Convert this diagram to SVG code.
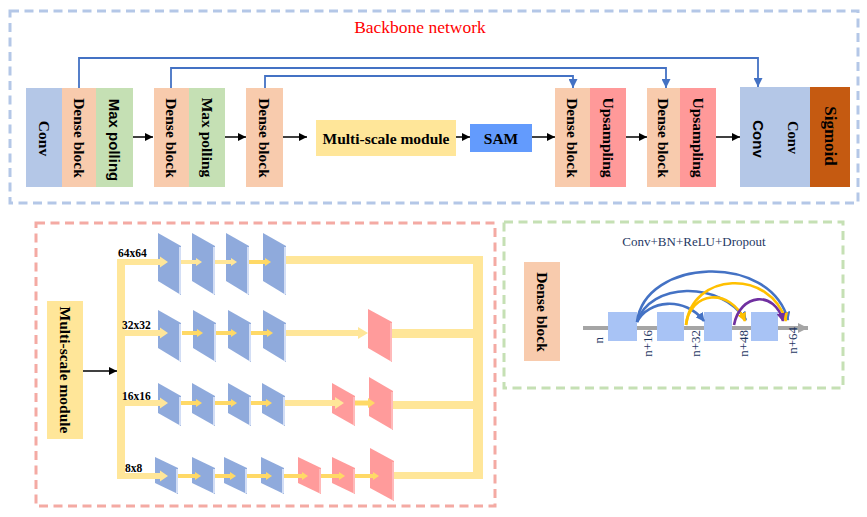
<svg xmlns="http://www.w3.org/2000/svg" width="867" height="517" viewBox="0 0 867 517">
<defs>
<style>
.serif{font-family:"Liberation Serif","Times New Roman",serif}
.sans{font-family:"Liberation Sans",Arial,sans-serif}
.b{font-weight:bold}
.lbl{font-size:15.5px;fill:#000}
.frame{fill:none;stroke-width:3;stroke-dasharray:9 5.5}
.blue{fill:#8faadc}
.pink{fill:#ff9b9b}
.edgeB{stroke:#d3def5;stroke-width:2}
.edgeP{stroke:#ffc4c4;stroke-width:1.5}
.yl{fill:#ffe699}
.yd{fill:#ffd966}
.conn{fill:none;stroke:#000;stroke-width:1.5}
.skip{fill:none;stroke:#4472c4;stroke-width:1.8}
.arc{fill:none;stroke-width:2.6}
.nl{font-size:13px;fill:#1f3864}
</style>
<marker id="ah" viewBox="0 0 10 10" refX="10" refY="5" markerWidth="8" markerHeight="8" markerUnits="userSpaceOnUse" orient="auto"><path d="M0,0 L10,5 L0,10 z" fill="#000"/></marker>
<marker id="ahb" viewBox="0 0 10 10" refX="10" refY="5" markerWidth="9" markerHeight="9" markerUnits="userSpaceOnUse" orient="auto"><path d="M0,0 L10,5 L0,10 z" fill="#4472c4"/></marker>
<marker id="ahy" viewBox="0 0 10 10" refX="9" refY="5" markerWidth="9" markerHeight="9" markerUnits="userSpaceOnUse" orient="auto"><path d="M0,0 L10,5 L0,10 z" fill="#ffc000"/></marker>
<marker id="ahp" viewBox="0 0 10 10" refX="9" refY="5" markerWidth="9" markerHeight="9" markerUnits="userSpaceOnUse" orient="auto"><path d="M0,0 L10,5 L0,10 z" fill="#7030a0"/></marker>
<marker id="ahbl" viewBox="0 0 10 10" refX="9" refY="5" markerWidth="9" markerHeight="9" markerUnits="userSpaceOnUse" orient="auto"><path d="M0,0 L10,5 L0,10 z" fill="#4472c4"/></marker>
<marker id="ahg" viewBox="0 0 10 10" refX="10" refY="5" markerWidth="11" markerHeight="10" markerUnits="userSpaceOnUse" orient="auto"><path d="M0,0 L10,5 L0,10 z" fill="#a5a5a5"/></marker>
</defs>
<rect width="867" height="517" fill="#fff"/>

<!-- Frames -->
<g id="frames">
<rect class="frame" x="10" y="11" width="848" height="192" stroke="#b4c7e7"/>
<rect class="frame" x="36" y="223" width="459" height="283" stroke="#f4aaa3"/>
<rect class="frame" x="504" y="222" width="339" height="166" stroke="#c5e0b4"/>
</g>
<text class="serif" x="420" y="33" font-size="17.5" fill="#ff0000" text-anchor="middle">Backbone network</text>

<!-- Backbone nodes -->
<g id="conv1">
<rect x="26" y="88" width="36" height="99" fill="#b4c7e7"/>
<text class="serif b lbl" transform="translate(44,138.5) rotate(90)" text-anchor="middle" dominant-baseline="central">Conv</text>
</g>
<g id="dense1">
<rect x="62" y="88" width="34" height="99" fill="#f8cbad"/>
<text class="serif b lbl" transform="translate(79,138) rotate(90)" text-anchor="middle" dominant-baseline="central">Dense block</text>
</g>
<g id="pool1">
<rect x="96" y="88" width="37" height="99" fill="#c5e0b4"/>
<text class="sans b" font-size="15" transform="translate(114.5,140) rotate(90)" text-anchor="middle" dominant-baseline="central">Max polling</text>
</g>
<g id="dense2">
<rect x="154" y="88" width="35" height="99" fill="#f8cbad"/>
<text class="serif b lbl" transform="translate(171.5,138) rotate(90)" text-anchor="middle" dominant-baseline="central">Dense block</text>
</g>
<g id="pool2">
<rect x="189" y="88" width="36" height="99" fill="#c5e0b4"/>
<text class="serif b lbl" transform="translate(207,137.5) rotate(90)" text-anchor="middle" dominant-baseline="central">Max polling</text>
</g>
<g id="dense3">
<rect x="246" y="88" width="37" height="99" fill="#f8cbad"/>
<text class="serif b lbl" transform="translate(264.5,138) rotate(90)" text-anchor="middle" dominant-baseline="central">Dense block</text>
</g>
<g id="msm">
<rect x="316" y="120" width="140" height="36" fill="#ffe699"/>
<text class="serif b lbl" x="386" y="138" text-anchor="middle" dominant-baseline="central">Multi-scale module</text>
</g>
<g id="sam">
<rect x="470" y="124" width="62" height="28" fill="#639bfd"/>
<text class="serif b lbl" x="501" y="138" text-anchor="middle" dominant-baseline="central">SAM</text>
</g>
<g id="dense4">
<rect x="555" y="88" width="35" height="99" fill="#f8cbad"/>
<text class="serif b lbl" transform="translate(572.5,138) rotate(90)" text-anchor="middle" dominant-baseline="central">Dense block</text>
</g>
<g id="up1">
<rect x="590" y="88" width="36" height="99" fill="#ff9999"/>
<text class="serif b lbl" transform="translate(608,137.5) rotate(90)" text-anchor="middle" dominant-baseline="central">Upsampling</text>
</g>
<g id="dense5">
<rect x="647" y="88" width="33" height="99" fill="#f8cbad"/>
<text class="serif b lbl" transform="translate(663.5,138) rotate(90)" text-anchor="middle" dominant-baseline="central">Dense block</text>
</g>
<g id="up2">
<rect x="680" y="88" width="36" height="99" fill="#ff9999"/>
<text class="serif b lbl" transform="translate(698,137.5) rotate(90)" text-anchor="middle" dominant-baseline="central">Upsampling</text>
</g>
<g id="convOut">
<rect x="740" y="87" width="70" height="100" fill="#b4c7e7"/>
<text class="sans b" font-size="15" transform="translate(758,139) rotate(90)" text-anchor="middle" dominant-baseline="central">Conv</text>
<text class="serif b" font-size="14.5" transform="translate(793,137.5) rotate(90)" text-anchor="middle" dominant-baseline="central">Conv</text>
</g>
<g id="sigmoid">
<rect x="810" y="87" width="40" height="100" fill="#c55a11"/>
<text class="serif b" font-size="17" transform="translate(830,136) rotate(90)" text-anchor="middle" dominant-baseline="central">Sigmoid</text>
</g>

<!-- Backbone connectors -->
<g id="backbone-connectors">
<line class="conn" x1="133" y1="137" x2="153" y2="137" marker-end="url(#ah)"/>
<line class="conn" x1="225" y1="137" x2="246" y2="137" marker-end="url(#ah)"/>
<line class="conn" x1="283" y1="137" x2="307" y2="137" marker-end="url(#ah)"/>
<line class="conn" x1="456" y1="137" x2="470" y2="137" marker-end="url(#ah)"/>
<line class="conn" x1="532" y1="137" x2="555" y2="137" marker-end="url(#ah)"/>
<line class="conn" x1="626" y1="137" x2="647" y2="137" marker-end="url(#ah)"/>
<line class="conn" x1="716" y1="137" x2="740" y2="137" marker-end="url(#ah)"/>
<path class="skip" d="M79,88 V58 H758 V87" marker-end="url(#ahb)"/>
<path class="skip" d="M171,88 V68 H666 V88" marker-end="url(#ahb)"/>
<path class="skip" d="M265,88 V76 H573 V88" marker-end="url(#ahb)"/>
</g>

<!-- Multi-scale module detail -->
<g id="msm-big">
<rect x="47" y="301" width="36" height="138" fill="#ffe699"/>
<text class="serif b lbl" transform="translate(65,370) rotate(90)" text-anchor="middle" dominant-baseline="central">Multi-scale module</text>
</g>
<g id="ms-connectors">
<line class="conn" x1="83" y1="371" x2="117" y2="371" stroke-width="2" marker-end="url(#ah)"/>
<rect class="yl" x="117" y="260" width="8" height="219"/>
<rect class="yl" x="286" y="256" width="197" height="8"/>
<rect class="yl" x="392" y="329" width="86" height="9"/>
<rect class="yl" x="393" y="401" width="85" height="8"/>
<rect class="yl" x="394" y="472" width="89" height="7"/>
<rect class="yl" x="473" y="256" width="10" height="223"/>
</g>
<g class="serif b" font-size="11.5">
<text x="118" y="257">64x64</text>
<text x="122" y="329">32x32</text>
<text x="122" y="400">16x16</text>
<text x="125" y="472">8x8</text>
</g>

<!-- row 1 -->
<g id="r1c1"><polygon class="blue" points="158,233 181,246 181,295 158,281"/><line class="edgeB" x1="180" y1="247" x2="180" y2="294"/></g>
<g id="r1c2"><polygon class="blue" points="192,233 215,246 215,295 192,281"/><line class="edgeB" x1="214" y1="247" x2="214" y2="294"/></g>
<g id="r1c3"><polygon class="blue" points="226,233 249,246 249,295 226,281"/><line class="edgeB" x1="248" y1="247" x2="248" y2="294"/></g>
<g id="r1c4"><polygon class="blue" points="263,233 286,246 286,295 263,281"/><line class="edgeB" x1="285" y1="247" x2="285" y2="294"/></g>
<!-- row 2 -->
<g id="r2c1"><polygon class="blue" points="158,310 181,323 181,362 158,348"/><line class="edgeB" x1="180" y1="324" x2="180" y2="361"/></g>
<g id="r2c2"><polygon class="blue" points="193,310 216,323 216,362 193,348"/><line class="edgeB" x1="215" y1="324" x2="215" y2="361"/></g>
<g id="r2c3"><polygon class="blue" points="228,310 251,323 251,362 228,348"/><line class="edgeB" x1="250" y1="324" x2="250" y2="361"/></g>
<g id="r2c4"><polygon class="blue" points="263,310 286,323 286,362 263,348"/><line class="edgeB" x1="285" y1="324" x2="285" y2="361"/></g>
<g id="r2p1"><polygon class="pink" points="368,309 392,322 392,362 368,348"/><line class="edgeP" x1="391" y1="323" x2="391" y2="361"/></g>
<!-- row 3 -->
<g id="r3c1"><polygon class="blue" points="158,383 181,396 181,426 158,413"/><line class="edgeB" x1="180" y1="397" x2="180" y2="425"/></g>
<g id="r3c2"><polygon class="blue" points="192,383 215,396 215,426 192,413"/><line class="edgeB" x1="214" y1="397" x2="214" y2="425"/></g>
<g id="r3c3"><polygon class="blue" points="228,383 251,396 251,426 228,413"/><line class="edgeB" x1="250" y1="397" x2="250" y2="425"/></g>
<g id="r3c4"><polygon class="blue" points="262,383 285,396 285,426 262,413"/><line class="edgeB" x1="284" y1="397" x2="284" y2="425"/></g>
<g id="r3p1"><polygon class="pink" points="332,383 355,396 355,426 332,413"/><line class="edgeP" x1="354" y1="397" x2="354" y2="425"/></g>
<g id="r3p2"><polygon class="pink" points="369,377 393,391 393,430 369,416"/><line class="edgeP" x1="392" y1="392" x2="392" y2="429"/></g>
<!-- row 4 -->
<g id="r4c1"><polygon class="blue" points="155,457 178,468 178,494 155,483"/><line class="edgeB" x1="177" y1="469" x2="177" y2="493"/></g>
<g id="r4c2"><polygon class="blue" points="192,457 215,468 215,494 192,483"/><line class="edgeB" x1="214" y1="469" x2="214" y2="493"/></g>
<g id="r4c3"><polygon class="blue" points="224,457 247,468 247,494 224,483"/><line class="edgeB" x1="246" y1="469" x2="246" y2="493"/></g>
<g id="r4c4"><polygon class="blue" points="261,457 284,468 284,494 261,483"/><line class="edgeB" x1="283" y1="469" x2="283" y2="493"/></g>
<g id="r4p1"><polygon class="pink" points="298,457 321,468 321,494 298,483"/><line class="edgeP" x1="320" y1="469" x2="320" y2="493"/></g>
<g id="r4p2"><polygon class="pink" points="332,457 355,468 355,494 332,483"/><line class="edgeP" x1="354" y1="469" x2="354" y2="493"/></g>
<g id="r4p3"><polygon class="pink" points="370,448 394,461 394,501 370,488"/><line class="edgeP" x1="393" y1="462" x2="393" y2="500"/></g>

<g id="ms-arrows">
<polygon class="yl" points="117,259 160,259 160,256.5 168,262 160,267.5 160,265 117,265"/>
<polygon class="yl" points="181,260 196,260 196,258 202,262 196,266 196,264 181,264"/>
<polygon class="yl" points="215,260 231,260 231,258 237,262 231,266 231,264 215,264"/>
<polygon class="yd" points="249,260 265,260 265,258 271,262 265,266 265,264 249,264"/>

<polygon class="yl" points="117,330 160,330 160,327.5 168,333 160,338.5 160,336 117,336"/>
<polygon class="yd" points="182,331 197,331 197,329 203,333 197,337 197,335 182,335"/>
<polygon class="yd" points="216,331 231,331 231,329 237,333 231,337 231,335 216,335"/>
<polygon class="yd" points="251,331 267,331 267,329 273,333 267,337 267,335 251,335"/>
<polygon class="yl" points="286,330 358,330 358,327 368,333 358,339 358,336 286,336"/>

<polygon class="yl" points="117,400 160,400 160,397.5 168,403 160,408.5 160,406 117,406"/>
<polygon class="yd" points="181,401 196,401 196,399 202,403 196,407 196,405 181,405"/>
<polygon class="yd" points="215,401 231,401 231,399 237,403 231,407 231,405 215,405"/>
<polygon class="yd" points="251,401 266,401 266,399 272,403 266,407 266,405 251,405"/>
<polygon class="yl" points="285,400 335,400 335,397 344,403 335,409 335,406 285,406"/>
<polygon class="yd" points="355,400.5 368,400.5 368,398 375,403 368,408 368,405.5 355,405.5"/>

<polygon class="yl" points="117,473 160,473 160,470.5 168,476 160,481.5 160,479 117,479"/>
<polygon class="yd" points="178,474 195,474 195,472 201,476 195,480 195,478 178,478"/>
<polygon class="yd" points="215,474 230,474 230,472 236,476 230,480 230,478 215,478"/>
<polygon class="yd" points="247,474 266,474 266,472 272,476 266,480 266,478 247,478"/>
<polygon class="yd" points="284,474 302,474 302,472 308,476 302,480 302,478 284,478"/>
<polygon class="yd" points="321,474 339,474 339,472 345,476 339,480 339,478 321,478"/>
<polygon class="yd" points="355,474 373,474 373,472 379,476 373,480 373,478 355,478"/>
</g>

<!-- Dense block detail -->
<text class="serif" x="694" y="246" font-size="13" fill="#1f3864" text-anchor="middle">Conv+BN+ReLU+Dropout</text>
<g id="dense-big">
<rect x="524" y="262" width="36" height="99" fill="#f8cbad"/>
<text class="serif b lbl" transform="translate(542,312) rotate(90)" text-anchor="middle" dominant-baseline="central">Dense block</text>
</g>
<g id="dense-axis">
<line x1="583" y1="328" x2="808" y2="328" stroke="#a5a5a5" stroke-width="4" marker-end="url(#ahg)"/>
</g>
<g id="layer1"><rect x="608" y="312" width="29" height="29" fill="#a8c3f5"/></g>
<g id="layer2"><rect x="657" y="312" width="27" height="29" fill="#a8c3f5"/></g>
<g id="layer3"><rect x="704" y="312" width="28" height="29" fill="#a8c3f5"/></g>
<g id="layer4"><rect x="751" y="312" width="27" height="29" fill="#a8c3f5"/></g>
<g id="dense-arcs">
<path class="arc" stroke="#4472c4" d="M637,322 C648,300 685,296 704,321" marker-end="url(#ahbl)"/>
<path class="arc" stroke="#4472c4" d="M637,322 C650,282 720,280 746,320" marker-end="url(#ahbl)"/>
<path class="arc" stroke="#4472c4" d="M637,322 C645,258 770,252 788,320" marker-end="url(#ahbl)"/>
<path class="arc" stroke="#ffc000" d="M686,325 C690,291 730,287 745,321" marker-end="url(#ahy)"/>
<path class="arc" stroke="#ffc000" d="M686,325 C692,272 770,268 786,321" marker-end="url(#ahy)"/>
<path class="arc" stroke="#7030a0" d="M734,325 C740,293 775,290 783,321" marker-end="url(#ahp)"/>
</g>
<g class="serif nl">
<text transform="translate(598,337) rotate(-90)" text-anchor="end" dominant-baseline="central">n</text>
<text transform="translate(647,330) rotate(-90)" text-anchor="end" dominant-baseline="central">n+16</text>
<text transform="translate(695,330) rotate(-90)" text-anchor="end" dominant-baseline="central">n+32</text>
<text transform="translate(743,330) rotate(-90)" text-anchor="end" dominant-baseline="central">n+48</text>
<text transform="translate(792,327) rotate(-90)" text-anchor="end" dominant-baseline="central">n+64</text>
</g>
</svg>
